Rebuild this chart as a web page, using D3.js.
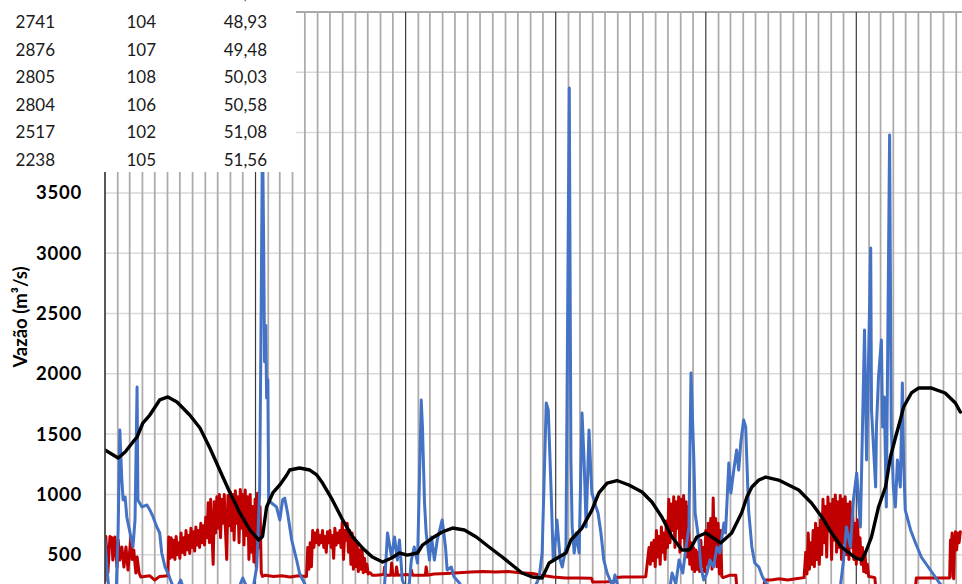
<!DOCTYPE html>
<html>
<head>
<meta charset="utf-8">
<script src="https://cdn.jsdelivr.net/npm/d3@7"></script>
<style>
  body { margin: 0; background: #fff; }
  svg { display: block; }
</style>
</head>
<body>
<div id="wrapper"></div>
<script>
// 1. Data (day offset from series start, m³/s)

const seriesStart = new Date(Date.UTC(2008, 0, 1))
const seriesEnd = new Date(Date.UTC(2014, 0, 1))

const gridValues = [500, 1000, 1500, 2000, 2500, 3000, 3500, 4000, 4500, 5000]
const yTickLabels = [500, 1000, 1500, 2000, 2500, 3000, 3500]

// spreadsheet cells left over on top of the chart
const tableCol1 = ["2690", "2741", "2876", "2805", "2804", "2517", "2238"]
const tableCol2 = ["103", "104", "107", "108", "106", "102", "105"]
const tableCol3 = ["48,38", "48,93", "49,48", "50,03", "50,58", "51,08", "51,56"]

// blue
const vazaoAfluente = [
  [0,622],[5,373],[10,200],[27,180],[32,705],[36,1534],[41,1119],[44,954],[49,978],[53,813],
  [61,680],[68,564],[73,788],[78,1891],[80,954],[90,896],[102,912],[109,871],[117,813],[126,730],
  [133,680],[138,514],[146,398],[153,348],[163,257],[172,200],[184,290],[194,190],[231,150],[279,130],
  [320,180],[335,307],[345,230],[359,200],[369,398],[376,1012],[379,2200],[383,4050],[386,3000],[388,2100],
  [391,2400],[393,1800],[396,1950],[398,954],[405,929],[417,896],[425,788],[432,954],[437,970],[444,846],
  [454,622],[466,456],[473,348],[481,290],[490,230],[522,180],[595,150],[667,170],[680,257],[687,680],
  [697,481],[704,647],[711,456],[716,622],[723,290],[731,220],[740,260],[745,456],[752,564],[760,431],
  [769,1783],[772,1559],[777,929],[781,680],[789,456],[794,647],[801,456],[808,622],[818,763],[820,788],
  [828,564],[832,373],[842,398],[849,315],[862,265],[874,200],[886,150],[959,120],[1031,140],[1051,274],
  [1056,315],[1063,514],[1073,1758],[1078,1700],[1085,1012],[1090,456],[1097,680],[1099,788],[1107,456],[1112,398],
  [1121,564],[1129,4370],[1133,1285],[1136,730],[1141,514],[1146,680],[1153,514],[1160,1675],[1165,1285],[1170,730],
  [1177,1534],[1182,1144],[1184,1012],[1194,896],[1199,846],[1206,680],[1213,456],[1221,348],[1230,274],[1235,240],
  [1240,332],[1248,230],[1262,170],[1323,130],[1371,160],[1379,348],[1388,257],[1396,456],[1405,348],[1413,564],
  [1420,730],[1425,2007],[1432,1285],[1435,846],[1444,622],[1449,398],[1456,290],[1464,348],[1471,456],[1480,398],
  [1488,564],[1495,514],[1505,763],[1509,680],[1517,1260],[1522,1012],[1529,1202],[1536,1368],[1541,1202],[1546,1426],
  [1553,1617],[1558,1559],[1565,871],[1573,564],[1580,431],[1590,398],[1599,315],[1609,257],[1621,200],[1687,150],
  [1760,170],[1784,220],[1789,257],[1796,456],[1803,730],[1813,564],[1820,954],[1828,1177],[1837,730],[1847,2363],
  [1852,1285],[1862,3043],[1864,1700],[1874,1061],[1876,1559],[1881,1973],[1888,2280],[1891,1559],[1895,1808],[1900,896],
  [1908,3980],[1912,1559],[1917,1061],[1922,896],[1927,1285],[1934,1061],[1939,1924],[1942,1285],[1946,871],[1959,705],
  [1971,597],[1985,481],[2002,398],[2019,315],[2031,257],[2051,200],[2080,170]
]

// red
const vazaoDefluente = [
  [0,280],[2,650],[7,348],[12,650],[17,640],[19,456],[24,647],[29,398],[32,622],[36,456],
  [41,564],[46,398],[51,564],[56,373],[63,647],[66,460],[70,539],[75,348],[78,481],[83,348],
  [87,315],[109,325],[121,290],[133,320],[153,325],
  [155,647],[158,470],[161,640],[164,480],[167,620],[170,460],[173,650],[176,500],[179,600],[182,470],
  [185,680],[188,520],[191,640],[194,500],[197,700],[200,540],[203,660],[206,510],[209,720],[212,560],
  [215,690],[218,530],[221,730],[224,580],[227,700],[230,560],[233,760],[236,600],[239,740],[242,580],
  [245,810],[248,640],[251,930],[254,600],[257,960],[260,700],[263,420],[266,940],[269,680],[272,980],
  [275,720],[278,1000],[281,640],[284,960],[287,760],[290,1000],[293,700],[296,460],[299,990],[302,740],
  [305,1020],[308,700],[311,1000],[314,620],[317,1030],[320,760],[323,980],[326,600],[329,1040],[332,720],
  [335,1000],[338,580],[341,1036],[344,660],[347,980],[350,460],[353,1000],[356,520],[359,900],[362,440],
  [365,960],[368,400],[371,1010],[374,560],[377,900],[380,350],[383,320],
  [390,330],[410,320],[430,325],[450,315],[470,325],[490,320],
  [493,560],[496,380],[499,600],[502,400],[505,700],[508,560],[511,680],[514,600],[517,705],[520,580],
  [523,660],[526,600],[529,700],[532,560],[535,650],[538,520],[541,690],[544,600],[547,700],[550,560],
  [553,660],[556,470],[559,720],[562,580],[565,680],[568,600],[571,700],[574,560],[577,771],[580,460],
  [583,700],[586,620],[589,760],[592,520],[595,700],[598,420],[601,680],[604,380],[607,640],[610,400],
  [613,600],[616,360],[619,540],[622,380],[625,560],[628,350],[631,470],[634,360],[637,420],[640,340],
  [645,350],[650,330],
  [660,330],[678,335],[680,398],[683,330],[695,330],[697,431],[700,330],[707,330],[709,398],[712,330],
  [735,335],[742,330],[745,373],[748,330],[779,330],[781,398],[784,330],[800,340],[830,345],[860,350],
  [890,357],[920,360],[950,357],[980,360],[1010,350],[1040,345],[1060,330],[1090,315],[1120,307],[1150,307],
  [1183,305],[1186,274],[1200,274],[1220,275],[1240,278],[1243,310],[1260,315],[1290,315],[1315,318],
  [1323,560],[1326,420],[1329,600],[1332,450],[1335,620],[1338,400],[1341,700],[1344,480],[1347,650],[1350,420],
  [1353,730],[1356,520],[1359,680],[1362,460],[1365,780],[1368,560],[1371,960],[1374,600],[1377,920],[1380,700],
  [1383,980],[1386,560],[1389,940],[1392,720],[1395,980],[1398,520],[1401,960],[1404,640],[1407,990],[1410,560],
  [1413,940],[1416,480],[1419,900],[1422,420],[1425,600],[1428,380],[1431,560],[1434,360],[1437,540],[1440,380],
  [1443,520],[1446,360],[1449,620],[1452,400],[1455,560],[1458,360],[1461,700],[1464,420],[1467,760],[1470,440],
  [1473,800],[1476,380],[1479,970],[1482,460],[1485,800],[1488,400],[1491,760],[1494,340],[1497,700],[1500,320],
  [1503,310],[1520,330],[1534,330],[1537,200],[1560,180],[1600,200],[1605,290],[1620,290],[1640,300],[1660,290],
  [1680,300],[1700,310],
  [1704,520],[1707,340],[1710,680],[1713,380],[1716,600],[1719,420],[1722,700],[1725,400],[1728,760],[1731,460],
  [1734,720],[1737,420],[1740,790],[1743,500],[1746,960],[1749,600],[1752,900],[1755,480],[1758,978],[1761,700],
  [1764,920],[1767,460],[1770,960],[1773,620],[1776,995],[1779,520],[1782,940],[1785,560],[1788,990],[1791,460],
  [1794,960],[1797,600],[1800,980],[1803,500],[1806,920],[1809,460],[1812,940],[1815,560],[1818,880],[1821,460],
  [1824,760],[1827,420],[1830,790],[1833,480],[1836,640],[1839,420],[1842,560],[1845,360],[1848,520],[1851,350],
  [1854,420],[1857,320],[1865,315],[1872,310],[1875,200],[1900,180],[1930,190],[1970,200],[1973,307],[2000,307],
  [2030,307],[2054,307],[2056,622],[2058,560],[2060,680],[2062,320],[2064,300],[2066,600],[2068,690],[2071,540],
  [2074,680],[2077,600],[2080,690]
]

// black
const mediaMovel = [
  [0,1368],[32,1302],[49,1352],[68,1435],[78,1476],[92,1592],[109,1658],[133,1783],[153,1808],[175,1766],
  [206,1658],[231,1550],[255,1385],[279,1202],[303,1020],[328,846],[352,705],[374,622],[383,650],[393,896],
  [408,1012],[425,1078],[442,1161],[449,1202],[473,1219],[498,1202],[515,1161],[529,1094],[553,954],[578,788],
  [602,647],[626,556],[650,481],[675,439],[697,473],[716,514],[735,497],[760,514],[772,580],[796,638],
  [820,688],[845,721],[874,705],[903,647],[934,564],[966,481],[990,415],[1014,348],[1039,315],[1063,307],
  [1080,431],[1104,481],[1121,514],[1133,622],[1160,721],[1184,870],[1201,1012],[1221,1094],[1245,1115],[1274,1078],
  [1306,1020],[1330,937],[1354,813],[1379,647],[1403,539],[1420,539],[1425,556],[1439,647],[1461,680],[1480,638],
  [1497,597],[1524,680],[1548,846],[1561,978],[1573,1061],[1590,1119],[1607,1144],[1638,1119],[1687,1036],[1718,929],
  [1743,813],[1767,680],[1791,564],[1825,473],[1840,456],[1849,514],[1864,647],[1881,896],[1898,1061],[1910,1310],
  [1922,1468],[1934,1617],[1942,1725],[1961,1841],[1978,1882],[2010,1882],[2043,1841],[2068,1758],[2080,1683]
]

// 2. Dimensions

const dimensions = {
  width: 962,
  height: 584,
  plotLeft: 105,
  plotTop: 12,
  zeroY: 615,
  plotRightAtEnd: 1006.4,
}

// 3. Canvas

const svg = d3.select("#wrapper")
  .append("svg")
    .attr("width", dimensions.width)
    .attr("height", dimensions.height)
    .style("font-family", "Lato, 'Open Sans', sans-serif")

svg.append("defs").append("clipPath")
    .attr("id", "plot-clip")
  .append("rect")
    .attr("x", dimensions.plotLeft)
    .attr("y", dimensions.plotTop)
    .attr("width", dimensions.width - dimensions.plotLeft)
    .attr("height", dimensions.height)

// 4. Scales

const xScale = d3.scaleUtc()
  .domain([seriesStart, seriesEnd])
  .range([dimensions.plotLeft, dimensions.plotRightAtEnd])

const yScale = d3.scaleLinear()
  .domain([0, 5000])
  .range([dimensions.zeroY, dimensions.plotTop])

const dayToX = d => xScale(d3.utcDay.offset(seriesStart, d[0]))

// 5. Gridlines

const grid = svg.append("g")

grid.selectAll(".hgrid")
  .data(gridValues)
  .join("line")
    .attr("class", "hgrid")
    .attr("x1", dimensions.plotLeft)
    .attr("x2", dimensions.width)
    .attr("y1", d => yScale(d))
    .attr("y2", d => yScale(d))
    .attr("stroke", d => d === 5000 ? "#8c8c8c" : "#d9d9d9")
    .attr("stroke-width", 1.5)

const yearStarts = d3.utcYear.range(seriesStart, seriesEnd).map(d => +d)
const monthLines = d3.utcMonth.range(seriesStart, seriesEnd)
  .filter(d => !yearStarts.includes(+d))

grid.selectAll(".mgrid")
  .data(monthLines)
  .join("line")
    .attr("class", "mgrid")
    .attr("x1", d => xScale(d))
    .attr("x2", d => xScale(d))
    .attr("y1", dimensions.plotTop)
    .attr("y2", dimensions.height)
    .attr("stroke", "#aeaaaa")
    .attr("stroke-width", 1.75)

grid.selectAll(".ygrid")
  .data(yearStarts.slice(1))
  .join("line")
    .attr("class", "ygrid")
    .attr("x1", d => xScale(d))
    .attr("x2", d => xScale(d))
    .attr("y1", dimensions.plotTop)
    .attr("y2", dimensions.height)
    .attr("stroke", "#3a3a3a")
    .attr("stroke-width", 1.2)

// 6. Series

const lineGenerator = d3.line()
  .x(dayToX)
  .y(d => yScale(d[1]))

const seriesGroup = svg.append("g")
  .attr("clip-path", "url(#plot-clip)")

const seriesList = [
  { data: vazaoDefluente, color: "#c00000", width: 3 },
  { data: vazaoAfluente, color: "#4472c4", width: 3 },
  { data: mediaMovel, color: "#000000", width: 3.4 },
]

seriesGroup.selectAll("path")
  .data(seriesList)
  .join("path")
    .attr("d", s => lineGenerator(s.data))
    .attr("fill", "none")
    .attr("stroke", s => s.color)
    .attr("stroke-width", s => s.width)
    .attr("stroke-linejoin", "round")
    .attr("stroke-linecap", "round")

// 7. Axis

const yAxis = svg.append("g")
  .attr("transform", `translate(${dimensions.plotLeft},0)`)
  .call(d3.axisLeft(yScale)
    .tickValues(yTickLabels)
    .tickFormat(d3.format("d"))
    .tickSize(0)
    .tickSizeOuter(0)
    .tickPadding(23))

yAxis.select(".domain")
  .attr("d", `M0,${dimensions.plotTop}V${dimensions.height}`)
  .attr("stroke", "#404040")
  .attr("stroke-width", 1.75)

yAxis.selectAll(".tick text")
  .attr("fill", "#000")
  .style("font-family", "Lato, sans-serif")
  .style("font-size", "18.5px")
  .style("font-weight", "bold")
  .style("letter-spacing", "0.8px")

svg.append("text")
  .attr("transform", "translate(27,317) rotate(-90)")
  .attr("text-anchor", "middle")
  .style("font-size", "18.5px")
  .style("font-weight", "bold")
  .text("Vazão (m³/s)")

// 8. Spreadsheet cells pasted over the chart

const table = svg.append("g")

table.append("rect")
  .attr("x", 0)
  .attr("y", 0)
  .attr("width", 296)
  .attr("height", 172)
  .attr("fill", "#fff")

// first row sits mostly above the crop, only its comma tail shows
const rowBaseline = i => i === 0 ? -1.2 : 0.4 + i * 27.6

const columns = [
  { values: tableCol1, x: 55 },
  { values: tableCol2, x: 156 },
  { values: tableCol3, x: 267 },
]

columns.forEach(col => {
  table.selectAll(null)
    .data(col.values)
    .join("text")
      .attr("x", col.x)
      .attr("y", (d, i) => rowBaseline(i))
      .attr("text-anchor", "end")
      .attr("fill", "#1a1a1a")
      .style("font-size", "17px")
      .text(d => d)
})
</script>
</body>
</html>
